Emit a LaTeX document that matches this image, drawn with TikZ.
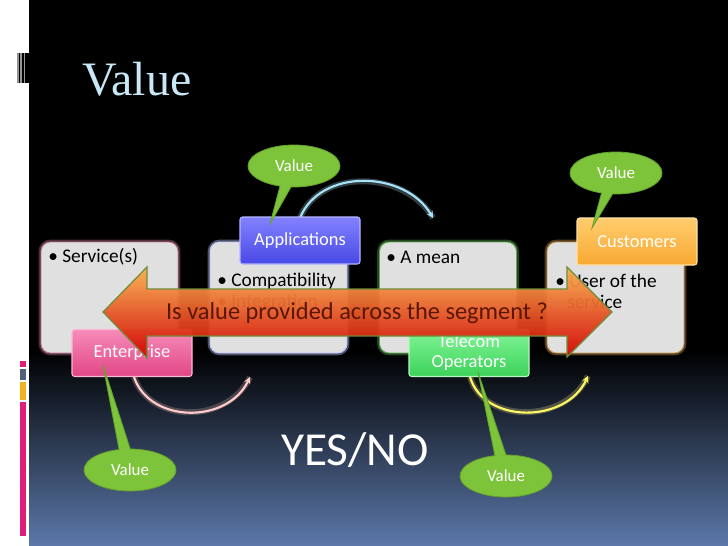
\documentclass[tikz,border=0pt]{standalone}
\usepackage{fontspec}
\setmainfont{Carlito}
\newfontfamily\titlefont{Liberation Serif}
\usetikzlibrary{arrows.meta,shapes.callouts}
\definecolor{bgblue}{RGB}{92,120,170}
\definecolor{titleblue}{RGB}{200,232,248}
\definecolor{boxgray}{RGB}{224,224,224}
\definecolor{callgreen}{RGB}{126,196,58}
\definecolor{calledge}{RGB}{100,160,45}
\definecolor{pinkA}{RGB}{246,140,186}
\definecolor{pinkB}{RGB}{226,70,134}
\definecolor{blueA}{RGB}{130,130,255}
\definecolor{blueB}{RGB}{72,72,230}
\definecolor{greenA}{RGB}{130,245,150}
\definecolor{greenB}{RGB}{60,210,90}
\definecolor{orA}{RGB}{255,205,110}
\definecolor{orB}{RGB}{248,168,50}
\definecolor{arrowtop}{RGB}{250,178,80}
\definecolor{arrowmid}{RGB}{255,90,0}
\definecolor{arrowbot}{RGB}{210,0,0}
\definecolor{arrowedge}{RGB}{112,140,56}
\definecolor{arrowtext}{RGB}{90,22,0}
\definecolor{stripgray}{RGB}{150,150,150}
\definecolor{barpink}{RGB}{222,30,122}
\definecolor{bargray}{RGB}{82,96,122}
\definecolor{baryellow}{RGB}{240,178,32}
\definecolor{edge1}{RGB}{190,120,150}
\definecolor{edge2}{RGB}{190,200,255}
\definecolor{edge3}{RGB}{90,170,80}
\definecolor{edge4}{RGB}{200,150,80}
\tikzset{
  mainbox/.style={rounded corners=7pt, fill=boxgray, minimum width=102.75pt, minimum height=83.25pt,
    draw=#1, line width=0.7pt, preaction={draw=#1, line width=3.5pt, draw opacity=0.4}},
  labelbox/.style n args={3}{rounded corners=2pt, top color=#1, bottom color=#2, minimum width=90pt,
    minimum height=35.25pt, draw=#3, line width=0.8pt, text=white, font=\fontsize{13.8}{15}\selectfont,
    align=center, inner sep=0pt},
  boxtext/.style={anchor=west, font=\fontsize{14.5}{16}\selectfont, text=black, inner sep=0pt},
  valuecall/.style={ellipse callout, fill=callgreen, draw=calledge, line width=0.6pt, text=white,
    font=\fontsize{12.7}{14}\selectfont, minimum width=69pt, minimum height=31.5pt, inner sep=0pt,
    callout pointer arc=14},
  glowarc/.style={draw=#1, line width=1.6pt, -{Stealth[length=5pt,width=5pt]},
    preaction={draw=#1!70!black, line width=4.5pt, draw opacity=0.35, -{}}}
}
\begin{document}
\begin{tikzpicture}[x=0.75pt,y=-0.75pt]
\useasboundingbox (0,0) rectangle (728,546);
% background
\fill[white] (0,0) rectangle (29,546);
\fill[black] (29,0) rectangle (728,352);
\shade[top color=black, bottom color=bgblue] (29,351) rectangle (728,546);
% left strip decoration
\fill[stripgray] (17,53) rectangle (18.5,83);
\fill[black] (18.5,53) rectangle (20,83);
\fill[stripgray] (20,53) rectangle (21.5,83);
\fill[black] (21.5,53) rectangle (23.5,83);
\fill[stripgray] (23.5,53) rectangle (25,83);
\fill[black] (25,53) rectangle (29,83);
\fill[barpink] (20,361) rectangle (26,367);
\fill[bargray] (20,369) rectangle (26,380);
\fill[baryellow] (20,382) rectangle (26,400);
\fill[barpink] (20,402) rectangle (26,536);
% title
\node[anchor=base west, text=titleblue, font=\titlefont\fontsize{36}{40}\selectfont, inner sep=0pt] (title) at (82,95) {Value};
% main boxes
\node[mainbox=edge1] (b1) at (109.5,297.5) {};
\node[mainbox=edge2] (b2) at (278.5,297.5) {};
\node[mainbox=edge3] (b3) at (448,297.5) {};
\node[mainbox=edge4] (b4) at (615.5,297.5) {};
\node[boxtext] (t1) at (48,257) {\textbullet\ Service(s)};
\node[boxtext] (t2a) at (217,281) {\textbullet\ Compatibility};
\node[boxtext] (t2b) at (217,302) {\textbullet\ Integration};
\node[boxtext] (t3) at (386,257) {\textbullet\ A mean};
\node[boxtext] (t4a) at (555,281) {\textbullet\ User of the};
\node[boxtext] (t4b) at (567,302) {service};
% curved arrows
\coordinate (c1s) at (300,218);
\coordinate (c1e) at (433,218);
\coordinate (c2s) at (134,377);
\coordinate (c2e) at (250,377);
\coordinate (c3s) at (470,377);
\coordinate (c3e) at (588,376);
\draw[glowarc={cyan!35!white}] (c1s) .. controls (320,168) and (405,170) .. (c1e);
\draw[glowarc={pink!80!white}] (c2s) .. controls (150,424) and (228,424) .. (c2e);
\draw[glowarc={yellow!60!white}] (c3s) .. controls (484,424) and (566,424) .. (c3e);
% label boxes
\node[labelbox={pinkA}{pinkB}{pinkA!60!white}] (ent) at (132,353) {Enterprise};
\node[labelbox={blueA}{blueB}{blueA!60!white}] (app) at (300,240.5) {Applications};
\node[labelbox={greenA}{greenB}{greenA!60!white}] (tel) at (469,353) {Telecom\\Operators};
\node[labelbox={orA}{orB}{orA!60!white}] (cus) at (637,241.5) {Customers};
% callouts
\coordinate (p1) at (270,224);
\coordinate (p2) at (592,228);
\coordinate (p3) at (103,365);
\coordinate (p4) at (478,372);
\node[valuecall, callout absolute pointer={(p1)}] (v1) at (294,166) {Value};
\node[valuecall, callout absolute pointer={(p2)}] (v2) at (616,173) {Value};
\node[valuecall, callout absolute pointer={(p3)}] (v3) at (130,470) {Value};
\node[valuecall, callout absolute pointer={(p4)}] (v4) at (506,476) {Value};
% big double arrow
\path[top color=arrowtop, middle color=arrowmid, bottom color=arrowbot, fill opacity=0.95]
  (103,312) -- (147,267) -- (147,289) -- (567,289) -- (567,267) -- (612,312)
  -- (567,357) -- (567,336) -- (147,336) -- (147,358) -- cycle;
\draw[arrowedge, line width=0.9pt, line join=miter]
  (103,312) -- (147,267) -- (147,289) -- (567,289) -- (567,267) -- (612,312)
  -- (567,357) -- (567,336) -- (147,336) -- (147,358) -- cycle;
\node[text=arrowtext, font=\fontsize{18.3}{20}\selectfont, inner sep=0pt] (q) at (357,313) {Is value provided across the segment ?};
% yes/no
\node[text=white, font=\fontsize{35.5}{38}\selectfont, inner sep=0pt] (yn) at (355,450) {YES/NO};
\end{tikzpicture}
\end{document}
